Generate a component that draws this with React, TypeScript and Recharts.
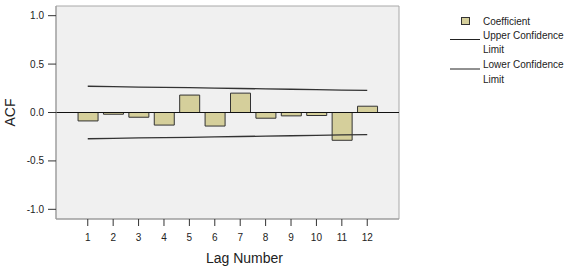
import React from 'react';
import {
  ComposedChart,
  Bar,
  Line,
  XAxis,
  YAxis,
  ReferenceArea,
  ReferenceLine,
  Legend,
} from 'recharts';

const lags = [1, 2, 3, 4, 5, 6, 7, 8, 9, 10, 11, 12];
const coefficient = [-0.087, -0.018, -0.049, -0.13, 0.18, -0.14, 0.2, -0.059, -0.035, -0.031, -0.287, 0.065];
const upperLimit = [0.271, 0.267, 0.263, 0.26, 0.256, 0.252, 0.248, 0.244, 0.24, 0.236, 0.232, 0.228];
const lowerLimit = [-0.271, -0.267, -0.263, -0.26, -0.256, -0.252, -0.248, -0.244, -0.24, -0.236, -0.232, -0.228];
const yTicks = [-1, -0.5, 0, 0.5, 1];

const data = lags.map((lag, i) => ({
  lag,
  coef: coefficient[i],
  upper: upperLimit[i],
  lower: lowerLimit[i],
}));

const font = '"Liberation Sans", Arial, sans-serif';
const barFill = '#d5cf9b';

const renderLegend = () => (
  <svg width={127} height={90} style={{ fontFamily: font, fontSize: 10 }}>
    <rect x={21.5} y={17.5} width={8} height={7} fill={barFill} stroke="#333" />
    <text x={43} y={24.5} fill="#222">Coefficient</text>
    <line x1={10} x2={40} y1={39.5} y2={39.5} stroke="#222" />
    <text x={43} y={38.5} fill="#222">Upper Confidence</text>
    <text x={43} y={53} fill="#222">Limit</text>
    <line x1={10} x2={40} y1={69} y2={69} stroke="#222" />
    <text x={43} y={68} fill="#222">Lower Confidence</text>
    <text x={43} y={83} fill="#222">Limit</text>
  </svg>
);

export default function App() {
  return (
    <div style={{ position: 'absolute', left: 0, top: 0, width: 567, height: 268, background: '#fff' }}>
      <ComposedChart
        width={567}
        height={268}
        data={data}
        margin={{ top: 6, right: 168, left: 0, bottom: 0 }}
        style={{ fontFamily: font }}
      >
        <ReferenceArea
          x1={-0.25}
          x2={13.25}
          y1={-1.1}
          y2={1.1}
          fill="#f0f0f0"
          fillOpacity={1}
          stroke="#a8a8a8"
        />
        <XAxis
          type="number"
          dataKey="lag"
          domain={[-0.25, 13.25]}
          ticks={lags}
          interval={0}
          height={49}
          tickSize={7}
          tickMargin={8}
          axisLine={{ stroke: '#999' }}
          tickLine={{ stroke: '#333' }}
          tick={{ fontSize: 10, fill: '#222' }}
          label={{
            content: ({ viewBox }: any) => (
              <text x={viewBox.x + viewBox.width / 2 + 17} y={viewBox.y + 44} textAnchor="middle" fontSize={14} fill="#222">
                Lag Number
              </text>
            ),
          }}
        />
        <YAxis
          type="number"
          domain={[-1.1, 1.1]}
          ticks={yTicks}
          width={56}
          tickSize={8}
          tickMargin={4}
          allowDataOverflow
          axisLine={{ stroke: '#999' }}
          tickLine={{ stroke: '#333' }}
          tick={{ fontSize: 10, fill: '#222' }}
          tickFormatter={(v: number) => v.toFixed(1)}
          label={{
            content: ({ viewBox }: any) => {
              const cy = viewBox.y + viewBox.height / 2;
              return (
                <text x={15} y={cy} transform={`rotate(-90 15 ${cy})`} textAnchor="middle" fontSize={14} fill="#222">
                  ACF
                </text>
              );
            },
          }}
        />
        <Legend
          layout="vertical"
          align="center"
          verticalAlign="middle"
          wrapperStyle={{ left: 440, top: 0, width: 127 }}
          content={renderLegend}
        />
        <Bar dataKey="coef" name="Coefficient" barSize={20} fill={barFill} stroke="#333" strokeWidth={1} isAnimationActive={false} />
        <ReferenceLine y={0} stroke="#111" />
        <Line dataKey="upper" name="Upper Confidence Limit" stroke="#333" strokeWidth={1.3} dot={false} activeDot={false} isAnimationActive={false} />
        <Line dataKey="lower" name="Lower Confidence Limit" stroke="#333" strokeWidth={1.3} dot={false} activeDot={false} isAnimationActive={false} />
      </ComposedChart>
    </div>
  );
}
